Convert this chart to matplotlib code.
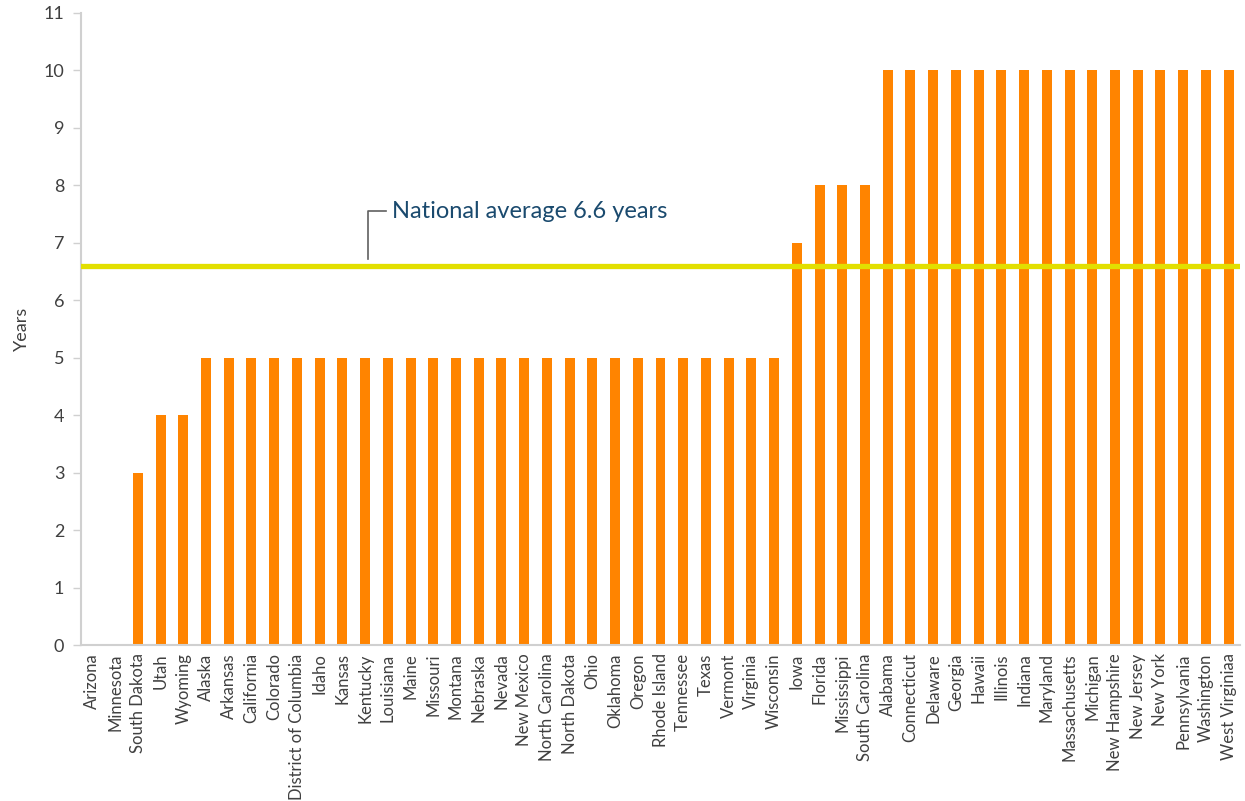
import matplotlib
matplotlib.use("Agg")
import matplotlib.pyplot as plt

states = ["Arizona", "Minnesota", "South Dakota", "Utah", "Wyoming", "Alaska",
          "Arkansas", "California", "Colorado", "District of Columbia", "Idaho",
          "Kansas", "Kentucky", "Louisiana", "Maine", "Missouri", "Montana",
          "Nebraska", "Nevada", "New Mexico", "North Carolina", "North Dakota",
          "Ohio", "Oklahoma", "Oregon", "Rhode Island", "Tennessee", "Texas",
          "Vermont", "Virginia", "Wisconsin", "Iowa", "Florida", "Mississippi",
          "South Carolina", "Alabama", "Connecticut", "Delaware", "Georgia",
          "Hawaii", "Illinois", "Indiana", "Maryland", "Massachusetts",
          "Michigan", "New Hampshire", "New Jersey", "New York", "Pennsylvania",
          "Washington", "West Virginiaa"]
years = [0, 0, 3, 4, 4, 5,
         5, 5, 5, 5, 5,
         5, 5, 5, 5, 5, 5,
         5, 5, 5, 5, 5,
         5, 5, 5, 5, 5, 5,
         5, 5, 5, 7, 8, 8,
         8, 10, 10, 10, 10,
         10, 10, 10, 10, 10,
         10, 10, 10, 10, 10,
         10, 10]
national_average = 6.6
y_ticks = list(range(0, 12))

plt.rcParams["font.family"] = ["Lato", "DejaVu Sans"]

fig = plt.figure(figsize=(12.45, 8.01), dpi=100)
ax = fig.add_axes([81 / 1245, 156 / 801, (1240 - 81) / 1245, (645 - 13) / 801])

x = range(len(states))
ax.bar(x, years, width=0.44, color="#FF8400", zorder=2)
ax.axhline(national_average, color="#E2DF00", linewidth=3.8, zorder=3)

ax.set_xlim(-0.5, len(states) - 0.5)
ax.set_ylim(0, 11)
ax.set_yticks(y_ticks)
ax.set_xticks(list(x))
ax.set_xticklabels(states, rotation=90, fontsize=12, color="#404040")
ax.tick_params(axis="y", labelsize=13, colors="#404040", length=6,
               width=1, color="#D0D0D0", pad=6)
ax.tick_params(axis="x", length=0, pad=6)
for s in ("top", "right"):
    ax.spines[s].set_visible(False)
for s in ("left", "bottom"):
    ax.spines[s].set_color("#D0D0D0")
    ax.spines[s].set_linewidth(1.5)
ax.set_ylabel("Years", fontsize=13, color="#404040", labelpad=10)

# Leader line and label for the national average
xi = 12.15
ax.plot([xi, xi, xi + 0.75], [6.72, 7.55, 7.55], color="#606060",
        linewidth=1.2, zorder=4, clip_on=False)
ax.text(xi + 1.05, 7.55, "National average 6.6 years", fontsize=17,
        color="#1A4A6E", va="center", ha="left")

fig.savefig("out.png", dpi=100)
